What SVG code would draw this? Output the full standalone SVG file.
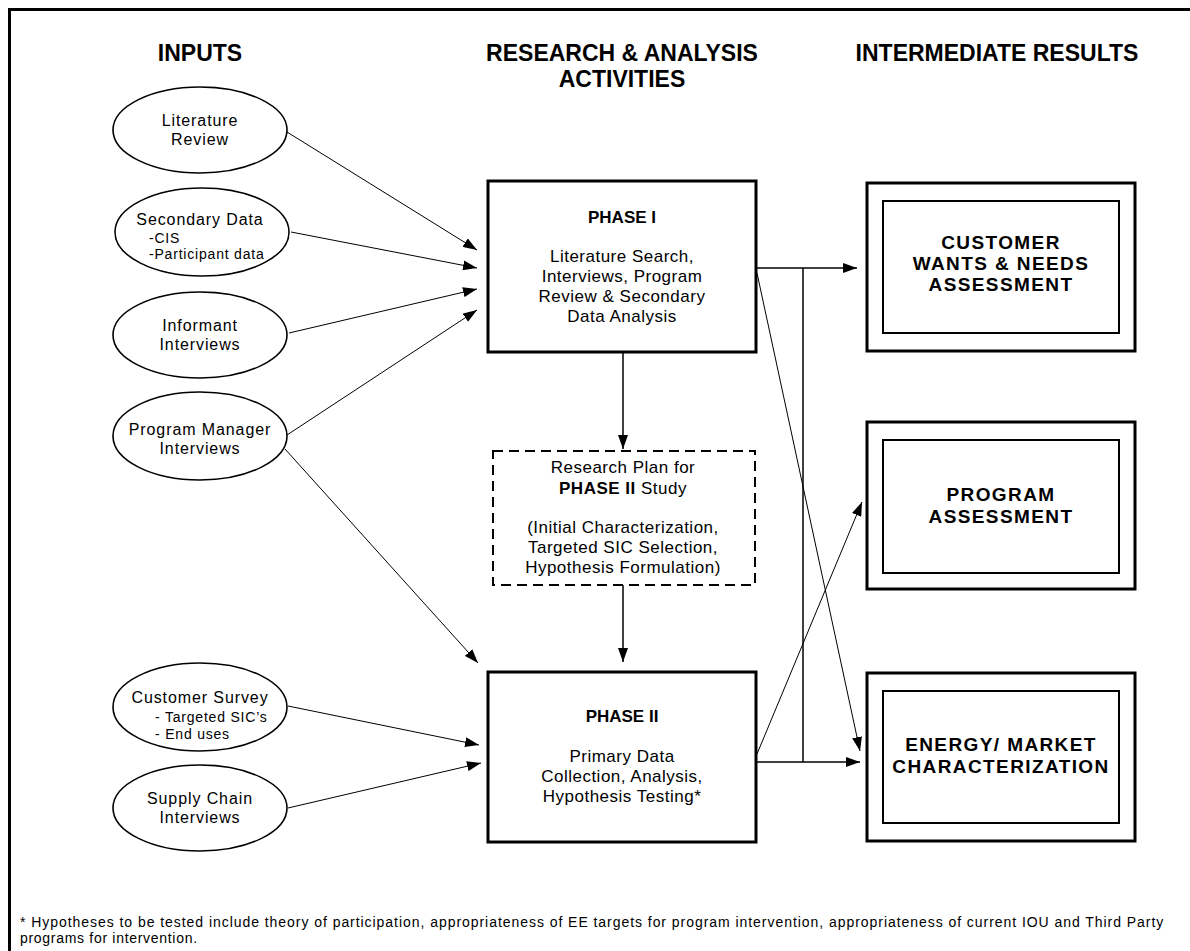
<svg xmlns="http://www.w3.org/2000/svg" width="1190" height="951" viewBox="0 0 1190 951">
<defs>
<marker id="ah" markerUnits="userSpaceOnUse" markerWidth="14" markerHeight="10" refX="14" refY="5" orient="auto">
<path d="M0,0 L14,5 L0,10 Z" fill="#000"/>
</marker>
<style>
text{font-family:"Liberation Sans",Arial,sans-serif;fill:#000}
.h{font-size:23px;font-weight:bold;text-anchor:middle}
.t{font-size:16px;letter-spacing:0.9px;text-anchor:middle}
.s{font-size:14px;letter-spacing:0.8px}
.b{font-size:17px;letter-spacing:0.5px;text-anchor:middle}
.pb{font-size:17px;font-weight:bold;text-anchor:middle}
.r{font-size:19px;font-weight:bold;letter-spacing:1.4px;text-anchor:middle}
.f{font-size:14px;letter-spacing:0.7px}
.ell{fill:#fff;stroke:#000;stroke-width:1.6}
.box{fill:#fff;stroke:#000;stroke-width:3}
.inner{fill:none;stroke:#000;stroke-width:2}
.dash{fill:#fff;stroke:#000;stroke-width:2;stroke-dasharray:10,6}
.c{fill:none;stroke:#000;stroke-width:1}
.c2{fill:none;stroke:#000;stroke-width:1.5}
</style>
</defs>
<rect width="1190" height="951" fill="#fff"/>
<g id="frame">
<path d="M9.5,951 L9.5,9.5 L1190,9.5" fill="none" stroke="#000" stroke-width="3"/>
</g>
<g id="headings">
<text class="h" x="200" y="61">INPUTS</text>
<text class="h" x="622" y="61">RESEARCH &amp; ANALYSIS</text>
<text class="h" x="622" y="87">ACTIVITIES</text>
<text class="h" x="997" y="61">INTERMEDIATE RESULTS</text>
</g>
<g id="connectors">
<line class="c" x1="287" y1="132" x2="477" y2="250" marker-end="url(#ah)"/>
<line class="c" x1="291" y1="232" x2="477" y2="268" marker-end="url(#ah)"/>
<line class="c" x1="289" y1="333" x2="477" y2="289" marker-end="url(#ah)"/>
<line class="c" x1="287" y1="435" x2="477" y2="310" marker-end="url(#ah)"/>
<line class="c" x1="285" y1="449" x2="478" y2="663" marker-end="url(#ah)"/>
<line class="c" x1="288" y1="706" x2="479" y2="745" marker-end="url(#ah)"/>
<line class="c" x1="288" y1="808" x2="481" y2="763" marker-end="url(#ah)"/>
<line class="c2" x1="623" y1="352" x2="623" y2="449" marker-end="url(#ah)"/>
<line class="c2" x1="623" y1="585" x2="623" y2="662" marker-end="url(#ah)"/>
<line class="c2" x1="756" y1="268" x2="857" y2="268" marker-end="url(#ah)"/>
<line class="c2" x1="803" y1="268" x2="803" y2="762"/>
<line class="c2" x1="756" y1="762" x2="860" y2="762" marker-end="url(#ah)"/>
<line class="c" x1="757" y1="273" x2="860" y2="751" marker-end="url(#ah)"/>
<line class="c" x1="757" y1="754" x2="862" y2="502" marker-end="url(#ah)"/>
</g>
<g id="lit-review">
<ellipse class="ell" cx="200" cy="130" rx="87" ry="43"/>
<text class="t" x="200" y="126">Literature</text>
<text class="t" x="200" y="145">Review</text>
</g>
<g id="secondary-data">
<ellipse class="ell" cx="202" cy="232" rx="87" ry="44"/>
<text class="t" x="200" y="225">Secondary Data</text>
<text class="s" x="149" y="243">-CIS</text>
<text class="s" x="149" y="259">-Participant data</text>
</g>
<g id="informant">
<ellipse class="ell" cx="200" cy="335" rx="87" ry="43"/>
<text class="t" x="200" y="331">Informant</text>
<text class="t" x="200" y="350">Interviews</text>
</g>
<g id="program-manager">
<ellipse class="ell" cx="200" cy="436" rx="87" ry="44"/>
<text class="t" x="200" y="435">Program Manager</text>
<text class="t" x="200" y="454">Interviews</text>
</g>
<g id="customer-survey">
<ellipse class="ell" cx="200" cy="707" rx="87" ry="44"/>
<text class="t" x="200" y="703">Customer Survey</text>
<text class="s" x="155" y="722">- Targeted SIC’s</text>
<text class="s" x="155" y="739">- End uses</text>
</g>
<g id="supply-chain">
<ellipse class="ell" cx="200" cy="808" rx="87" ry="43"/>
<text class="t" x="200" y="804">Supply Chain</text>
<text class="t" x="200" y="823">Interviews</text>
</g>
<g id="phase1">
<rect class="box" x="488" y="181" width="268" height="171"/>
<text class="pb" x="622" y="223">PHASE I</text>
<text class="b" x="622" y="262">Literature Search,</text>
<text class="b" x="622" y="282">Interviews, Program</text>
<text class="b" x="622" y="302">Review &amp; Secondary</text>
<text class="b" x="622" y="322">Data Analysis</text>
</g>
<g id="research-plan">
<rect class="dash" x="493" y="451" width="262" height="134"/>
<text class="b" x="623" y="473">Research Plan for</text>
<text class="b" x="623" y="494"><tspan font-weight="bold">PHASE II</tspan> Study</text>
<text class="b" x="623" y="533">(Initial Characterization,</text>
<text class="b" x="623" y="553">Targeted SIC Selection,</text>
<text class="b" x="623" y="573">Hypothesis Formulation)</text>
</g>
<g id="phase2">
<rect class="box" x="488" y="672" width="268" height="170"/>
<text class="pb" x="622" y="722">PHASE II</text>
<text class="b" x="622" y="762">Primary Data</text>
<text class="b" x="622" y="782">Collection, Analysis,</text>
<text class="b" x="622" y="802">Hypothesis Testing*</text>
</g>
<g id="customer-wants">
<rect class="box" x="867" y="183" width="268" height="168"/>
<rect class="inner" x="883" y="201" width="236" height="132"/>
<text class="r" x="1001" y="249">CUSTOMER</text>
<text class="r" x="1001" y="270">WANTS &amp; NEEDS</text>
<text class="r" x="1001" y="291">ASSESSMENT</text>
</g>
<g id="program-assessment">
<rect class="box" x="867" y="422" width="268" height="167"/>
<rect class="inner" x="883" y="440" width="236" height="133"/>
<text class="r" x="1001" y="501">PROGRAM</text>
<text class="r" x="1001" y="523">ASSESSMENT</text>
</g>
<g id="energy-market">
<rect class="box" x="867" y="673" width="268" height="168"/>
<rect class="inner" x="883" y="691" width="236" height="132"/>
<text class="r" x="1001" y="751">ENERGY/ MARKET</text>
<text class="r" x="1001" y="773">CHARACTERIZATION</text>
</g>
<g id="footnote">
<text class="f" x="20" y="927" textLength="1144" lengthAdjust="spacing">* Hypotheses to be tested include theory of participation, appropriateness of EE targets for program intervention, appropriateness of current IOU and Third Party</text>
<text class="f" x="20" y="943">programs for intervention.</text>
</g>
</svg>
